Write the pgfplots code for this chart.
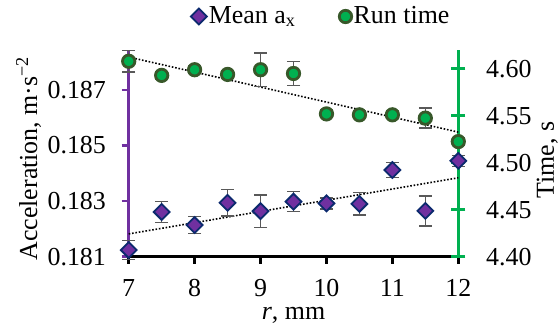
\documentclass[border=0pt]{standalone}
\usepackage{fontspec}
\setmainfont{Liberation Serif}
\usepackage{pgfplots}
\usepackage{pgfplotstable}
\pgfplotsset{compat=1.18}
\definecolor{accpurple}{HTML}{7030A0}
\definecolor{accnavy}{HTML}{0C2A6E}
\definecolor{timegreen}{HTML}{00B050}
\definecolor{timedark}{HTML}{38582A}
\definecolor{errgray}{HTML}{595959}

\pgfplotstableread{
x y e
7 0.18124 0.00034
7.5 0.18261 0.00037
8 0.18214 0.00030
8.5 0.18294 0.00047
9 0.18264 0.00058
9.5 0.18298 0.00036
10 0.18292 0.00020
10.5 0.18290 0.00040
11 0.18412 0.00028
11.5 0.18265 0.00054
12 0.18445 0.00020
}\acctable

\pgfplotstableread{
x y e
7 4.6080 0.0115
7.5 4.5930 0.0040
8 4.5990 0.0040
8.5 4.5940 0.0040
9 4.5990 0.0178
9.5 4.5950 0.0128
10 4.5520 0.0040
10.5 4.5510 0.0040
11 4.5510 0.0040
11.5 4.5475 0.0107
12 4.5225 0.0040
}\timetable

\pgfplotsset{
  singlemark/.style={legend image code/.code={\draw[##1] plot coordinates {(0bp,0bp)};}},
  errs/.style={error bars/y dir=both, error bars/y explicit,
    error bars/error bar style={errgray, line width=1.4bp},
    error bars/error mark options={rotate=90, mark size=6.5bp, errgray, line width=1.4bp}},
  diamondstyle/.style={only marks, mark=square*, mark size=5.6bp,
    mark options={rotate=45, fill=accpurple, draw=accnavy, line width=1.8bp}},
  circlestyle/.style={only marks, mark=*, mark size=6.2bp,
    mark options={fill=timegreen, draw=timedark, line width=2.8bp}},
  trendstyle/.style={black, line width=1.6bp, dash pattern=on 1.6bp off 1.8bp, no marks},
  base/.style={at={(0,0)}, anchor=south west,
    scale only axis, width=329.6bp, height=206.7bp, clip=false, xmin=7, xmax=12,
    /pgf/number format/assume math mode=true},
}

\begin{document}
\fontsize{26}{30}\selectfont
\begin{tikzpicture}
\path[use as bounding box] (-128.7bp,-69.3bp) rectangle (430.3bp,256.7bp);

% left and bottom axis lines
\begin{axis}[
  base, ymin=0.181, ymax=0.18844,
  axis x line*=bottom, axis y line*=left,
  x axis line style={black, line width=2.6bp, -},
  y axis line style={accpurple, line width=2.6bp, -},
  xtick={7,8,9,10,11,12},
  ytick={0.181,0.183,0.185,0.187},
  tick align=outside, major tick length=7bp,
  xtick style={black, line width=2.6bp},
  ytick style={accpurple, line width=2.6bp},
  scaled y ticks=false,
  yticklabel style={xshift=-7bp, /pgf/number format/.cd, fixed, fixed zerofill, precision=3},
  xticklabel style={yshift=-7bp},
  xlabel={\textit{r}, mm},
  ylabel={Acceleration, m·s\textsuperscript{−2}},
  every axis x label/.style={at={(axis description cs:0.5,-0.303)}, anchor=base},
  every axis y label/.style={at={(axis description cs:-0.278,0.475)}, anchor=base, rotate=90},
]
\end{axis}

% right axis line
\begin{axis}[
  base, ymin=4.40, ymax=4.62,
  axis x line=none, axis y line*=right,
  y axis line style={timegreen, line width=2.6bp, -},
  ytick={4.40,4.45,4.50,4.55,4.60},
  tick align=center, major tick length=14bp,
  ytick style={timegreen, line width=2.6bp},
  yticklabel style={xshift=12bp, /pgf/number format/.cd, fixed, fixed zerofill, precision=2},
  ylabel={Time, s},
  every axis y label/.style={at={(axis description cs:1.29,0.468)}, anchor=base, rotate=90},
]
\end{axis}

% acceleration data
\begin{axis}[
  base, ymin=0.181, ymax=0.18844, axis lines=none,
  legend columns=2,
  legend style={at={(axis description cs:0.584,1.162)}, anchor=center,
    draw=none, fill=none, inner sep=0pt, nodes={inner sep=2bp},
    /tikz/every even column/.append style={column sep=42bp}},
]
\addplot[trendstyle, forget plot] coordinates {(7,0.18182) (12,0.18384)};
\addplot[diamondstyle, errs, singlemark] table[x=x, y=y, y error=e] {\acctable};
\addlegendentry{Mean a\textsubscript{x}}
\addlegendimage{circlestyle, singlemark}
\addlegendentry{Run time}
\end{axis}

% time data
\begin{axis}[
  base, ymin=4.40, ymax=4.62, axis lines=none,
]
\addplot[trendstyle] coordinates {(7,4.6125) (12,4.5326)};
\addplot[circlestyle, errs] table[x=x, y=y, y error=e] {\timetable};
\end{axis}
\end{tikzpicture}
\end{document}
